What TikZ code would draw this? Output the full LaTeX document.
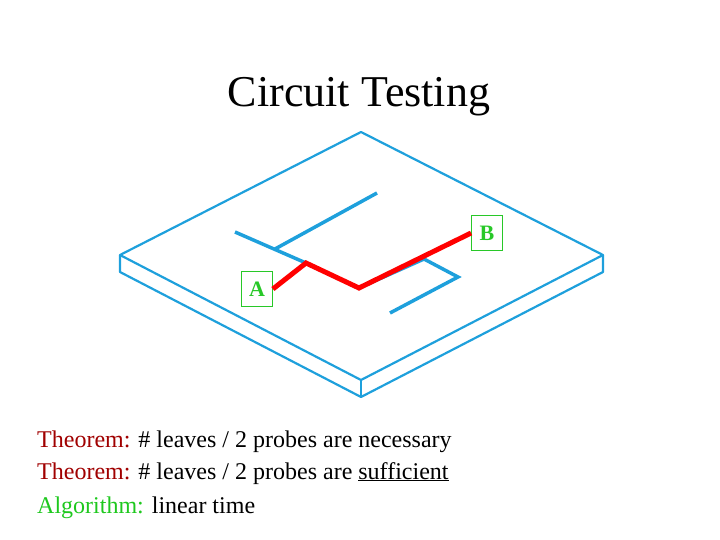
\documentclass[tikz,border=0pt]{standalone}
\usepackage{fontspec}
\setmainfont{Liberation Serif}
\usepackage{xcolor}
\definecolor{wire}{RGB}{30,160,220}
\definecolor{thm}{RGB}{160,0,0}
\definecolor{alg}{RGB}{30,200,30}
\definecolor{lab}{RGB}{40,200,40}
\begin{document}
\begin{tikzpicture}[x=1pt,y=-1pt,
  plate/.style={draw=wire,line width=2.2pt,line join=round},
  wireln/.style={draw=wire,line width=3.5pt},
  path/.style={draw=red,line width=5pt,line join=miter},
  labbox/.style={draw=lab,text=lab,line width=0.8pt,minimum width=31pt,minimum height=35pt,inner sep=0pt,font=\bfseries\fontsize{22}{22}\selectfont},
  txt/.style={anchor=base west,inner sep=0pt,font=\fontsize{24}{28}\selectfont}]
\useasboundingbox (0,0) rectangle (720,540);
\node[font=\fontsize{44}{44}\selectfont] (title) at (359,97) {Circuit Testing};
\coordinate (T) at (361,132); \coordinate (L) at (120,255);
\coordinate (Bt) at (361,380); \coordinate (R) at (603,255);
\coordinate (Lb) at (120,272); \coordinate (Bb) at (361,397); \coordinate (Rb) at (603,272);
\draw[plate] (T) -- (R) -- (Bt) -- (L) -- cycle;
\draw[plate] (L) -- (Lb) -- (Bb) -- (Rb) -- (R);
\draw[plate] (Bt) -- (Bb);
\coordinate (w1) at (235,232); \coordinate (w2) at (458,277); \coordinate (w3) at (390,313);
\coordinate (w4) at (275,249); \coordinate (w5) at (377,193);
\coordinate (p1) at (306,263); \coordinate (p2) at (359,288); \coordinate (w6) at (424,259);
\draw[wireln] (w1) -- (p1) -- (p2) -- (w6) -- (w2) -- (w3);
\draw[wireln] (w4) -- (w5);
\node[labbox] (A) at (257,289) {A};
\node[labbox] (B) at (487,233) {B};
\draw[path] (A.east) -- (p1) -- (p2) -- (B.west);
\node[txt] (l1) at (37,447) {\textcolor{thm}{Theorem:} \# leaves / 2 probes are necessary};
\node[txt] (l2) at (37,479) {\textcolor{thm}{Theorem:} \# leaves / 2 probes are \underline{sufficient}};
\node[txt] (l3) at (37,513) {\textcolor{alg}{Algorithm:} linear time};
\end{tikzpicture}
\end{document}
